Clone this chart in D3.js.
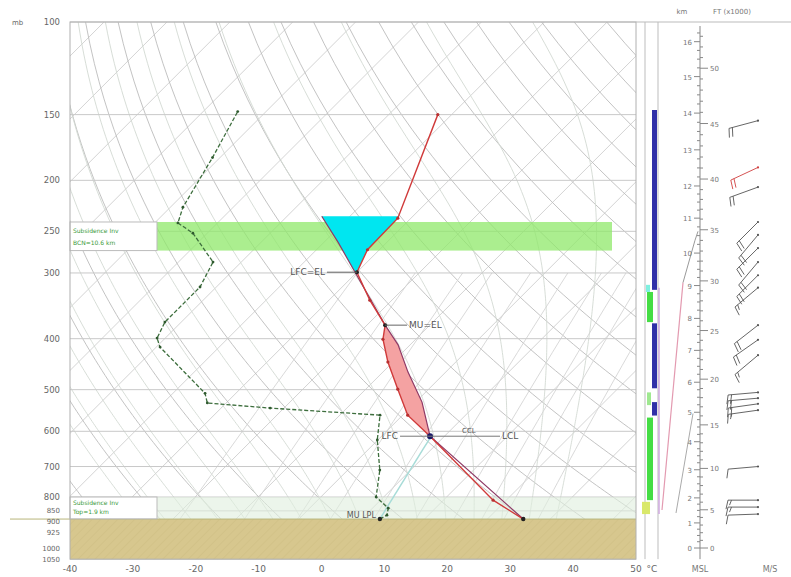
<!DOCTYPE html>
<html><head><meta charset="utf-8">
<script src="https://cdn.jsdelivr.net/npm/d3@7/dist/d3.min.js"></script>
<style>body{margin:0;background:#fff}svg{font-family:"DejaVu Sans",Arial,sans-serif}</style>
</head><body><svg id="c" width="791" height="577"></svg>
<script>
// ---------------- data ----------------
const pressureTicks = [100,150,200,250,300,400,500,600,700,800,850,900,925,1000,1050];
const tempTicks = [-40,-30,-20,-10,0,10,20,30,40,50];
// environment temperature (hPa, °C)
const envP = [881, 811, 613, 559, 499, 443, 401, 377, 338, 299, 271, 236, 150];
const envT = [25.7, 17.9, -2.3, -9.2, -14.9, -20.8, -25.2, -27.1, -33.5, -40.0, -41.9, -42.1, -52.2];
// dew point
const dewP = [881, 866, 840, 800, 711, 623, 559, 542, 530, 508, 415, 399, 372, 319, 286, 252, 241, 225, 181, 148];
const dewT = [2.9, 3.4, 2.5, -1.2, -4.9, -10.1, -13.6, -32.2, -43.0, -44.9, -59.4, -61.3, -62.6, -62.6, -64.5, -72.3, -76.3, -78.0, -81.2, -84.5];
// lifted parcel
const parcelP = [881, 613, 528, 463, 411, 377, 299, 263, 234];
const parcelT = [25.7, -2.3, -9.0, -16.0, -21.9, -27.1, -40.3, -47.6, -54.5];
// key levels
const lclP = 613, elP = 377, topEL = 299, cinTopP = 234, sfcP = 881;
// layers (hPa)
const inversionTop = [240, 272];
const inversionLow = [800, 892];
// height reference: km vs pressure
const hgtKm = [0,1,2,3,4,5,6,7,8,9,10,11,12,13,14,15,16];
const hgtP = [1000,896,803,710,628,552,484,421,366,317,275,236,205,175,149,127,109];
const kftTicks = [0,5,10,15,20,25,30,35,40,45,50];
// column bars: [pTop, pBottom]
const blueLayers = [[147,323],[374,497],[528,560]];
const greenLayers = [[326,372],[565,811]];
const lightGreenLayers = [[506,535]];
const yellowLayers = [[817,862]];
const cyanLayers = [[316,326]];
// mini profile lines in altitude panel (hPa, index value 0..40)
const miniAP = [847, 313, 260, 250];
const miniAV = [2, 23, 35, 38];
const miniBP = [858, 555];
const miniBV = [16, 33];
// winds: pressure, direction (deg), speed (m/s)
const windP = [154,189,206,240,254,269,286,303,320,377,402,430,506,519,532,547,700,811,836,862];
const windDir = [255,245,250,225,220,225,220,225,230,232,235,230,265,265,262,262,265,270,270,268];
const windSpd = [10,12,10,12,10,10,12,10,8,10,10,8,10,10,10,8,5,8,8,6];
const redWind = [189];

// --------------- scales ----------------
const svg = d3.select('#c');
const X0 = 70, X1 = 636, Y0 = 22;
const xT = d3.scaleLinear().domain([-40,50]).range([X0,X1]);
const yP = d3.scaleLog().domain([100,1000]).range([Y0,548]);
const Y1 = yP(1050);
const skew = 1.0;
const sx = (T,p) => xT(T) + skew*(Y1 - yP(p));
const lineTP = d3.line().x(d=>sx(d[1],d[0])).y(d=>yP(d[0]));

const defs = svg.append('defs');
defs.append('clipPath').attr('id','pc').append('rect').attr('x',X0).attr('y',Y0).attr('width',X1-X0).attr('height',Y1-Y0);
const pat = defs.append('pattern').attr('id','hatch').attr('width',6).attr('height',6).attr('patternUnits','userSpaceOnUse').attr('patternTransform','rotate(45)');
pat.append('rect').attr('width',6).attr('height',6).attr('fill','#d7c78e');
pat.append('line').attr('x1',0).attr('y1',0).attr('x2',0).attr('y2',6).attr('stroke','#cdbd82').attr('stroke-width',1);

const bg = svg.append('g').attr('clip-path','url(#pc)');

// isotherms
d3.range(-160,60,10).forEach(T=>{
  bg.append('path').attr('d',lineTP([[1050,T],[100,T]])).attr('stroke','#c8c8c8').attr('stroke-width',0.8).attr('fill','none');
});
// dry adiabats
const pLevels = [];
for(let p=1050;p>=100;p-=10) pLevels.push(p);
d3.range(240,500,10).forEach(th=>{
  const pts = pLevels.map(p=>[p, th*Math.pow(p/1000,0.2857)-273.15]);
  bg.append('path').attr('d',lineTP(pts)).attr('stroke','#bcbcbc').attr('stroke-width',0.9).attr('fill','none');
});
// moist adiabats
function moistLapse(T,p){const Rd=287.04,cp=1005.7,Lv=2.501e6,eps=0.622;
  const tc=T-273.15; const es=6.112*Math.exp(17.67*tc/(tc+243.5)); const rs=eps*es/(p-es);
  return (Rd*T+Lv*rs)/(p*(cp+Lv*Lv*rs*eps/(Rd*T*T)));}
d3.range(-24,40,4).forEach(t0=>{
  let T=t0+273.15, p=1050; const pts=[[p,T-273.15]];
  while(p>100){const dp=-5; T+=moistLapse(T,p)*dp; p+=dp; pts.push([p,T-273.15]);}
  bg.append('path').attr('d',lineTP(pts)).attr('stroke','#d2d9d2').attr('stroke-width',0.9).attr('fill','none');
});
// mixing ratio lines
[0.4,1,2,3,5,8,12,16,20,28].forEach(w=>{
  const pts=[]; for(let p=1050;p>=300;p-=25){const ww=w/1000; const e=ww*p/(0.622+ww); const l=Math.log(e/6.112); pts.push([p,243.5*l/(17.67-l)]);}
  bg.append('path').attr('d',lineTP(pts)).attr('stroke','#d5d5d5').attr('stroke-width',0.9).attr('fill','none');
});
// isobars
pressureTicks.forEach(p=>{
  svg.append('line').attr('x1',X0).attr('x2',X1).attr('y1',yP(p)).attr('y2',yP(p)).attr('stroke','#c9c9c9').attr('stroke-width',1);
});

// inversion bands
svg.append('rect').attr('x',157).attr('y',yP(inversionTop[0])).attr('width',612-157).attr('height',yP(inversionTop[1])-yP(inversionTop[0])).attr('fill','#8fe86a').attr('opacity',0.75);
svg.append('rect').attr('x',157).attr('y',yP(inversionLow[0])).attr('width',X1-157).attr('height',yP(inversionLow[1])-yP(inversionLow[0])).attr('fill','#dfeedd').attr('opacity',0.6);

// ground
svg.append('rect').attr('x',X0).attr('y',yP(sfcP)).attr('width',X1-X0).attr('height',Y1-yP(sfcP)).attr('fill','url(#hatch)');
svg.append('line').attr('x1',10).attr('x2',X1).attr('y1',yP(sfcP)).attr('y2',yP(sfcP)).attr('stroke','#b9b57a').attr('stroke-width',1);

// interpolation helpers
const env = envP.map((p,i)=>[p,envT[i]]);
const par = parcelP.map((p,i)=>[p,parcelT[i]]);
const dew = dewP.map((p,i)=>[p,dewT[i]]);
function interpT(arr,p){for(let i=0;i<arr.length-1;i++){const a=arr[i],b=arr[i+1];
  if((p<=a[0]&&p>=b[0])){const f=(Math.log(p)-Math.log(a[0]))/(Math.log(b[0])-Math.log(a[0]));return a[1]+f*(b[1]-a[1]);}}return arr[arr.length-1][1];}
function segment(arr,pHi,pLo){const s=[[pHi,interpT(arr,pHi)]];arr.forEach(d=>{if(d[0]<pHi&&d[0]>pLo)s.push(d);});s.push([pLo,interpT(arr,pLo)]);return s;}
// CAPE area
const capePoly = segment(par,lclP,elP).concat(segment(env,lclP,elP).reverse());
svg.append('path').attr('d',lineTP(capePoly)+'Z').attr('fill','#f4a2a2').attr('stroke','none');
// upper negative area
const cinPoly = segment(par,topEL,cinTopP).concat(segment(env,topEL,cinTopP).reverse());
svg.append('path').attr('d',lineTP(cinPoly)+'Z').attr('fill','#00e6f0').attr('stroke','none');

// surface-to-LCL mixing ratio line
(function(){const td=dewT[0]; const es=6.112*Math.exp(17.67*td/(td+243.5)); const w=0.622*es/(sfcP-es);
  const pts=[]; for(let p=sfcP;p>=lclP;p-=10){const e=w*p/(0.622+w);const l=Math.log(e/6.112);pts.push([p,243.5*l/(17.67-l)]);}
  const e=w*lclP/(0.622+w);const l=Math.log(e/6.112);pts.push([lclP,243.5*l/(17.67-l)]);
  svg.append('path').attr('d',lineTP(pts)).attr('stroke','#a8dcd8').attr('stroke-width',1.5).attr('fill','none');})();

// parcel & environment
svg.append('path').attr('d',lineTP(par)).attr('stroke','#8e3a66').attr('stroke-width',1.2).attr('fill','none');
svg.append('path').attr('d',lineTP(env)).attr('stroke','#d03a3a').attr('stroke-width',1.4).attr('fill','none');
svg.selectAll('.ed').data(env).enter().append('circle').attr('cx',d=>sx(d[1],d[0])).attr('cy',d=>yP(d[0])).attr('r',1.6).attr('fill','#b83030');
// dew point
svg.append('path').attr('d',lineTP(dew)).attr('stroke','#3d6e3d').attr('stroke-width',1.3).attr('stroke-dasharray','4,2').attr('fill','none');
svg.selectAll('.dd').data(dew).enter().append('circle').attr('cx',d=>sx(d[1],d[0])).attr('cy',d=>yP(d[0])).attr('r',1.4).attr('fill','#2f5a2f');

// key points
const keyPts = [[sfcP,envT[0],'#222',2.2],[sfcP,dewT[0],'#222',2.2],[lclP,interpT(par,lclP),'#1a1a66',3],[elP,interpT(par,elP),'#222',2],[topEL,interpT(env,topEL),'#222',2]];
keyPts.forEach(k=>svg.append('circle').attr('cx',sx(k[1],k[0])).attr('cy',yP(k[0])).attr('r',k[3]).attr('fill',k[2]));

// level labels
function lab(txt,x,y,anchor,size){return svg.append('text').attr('x',x).attr('y',y).attr('text-anchor',anchor||'start').attr('font-size',size||9).attr('fill','#555').text(txt);}
(function(){
  const xe=sx(interpT(env,topEL),topEL), ye=yP(topEL);
  svg.append('line').attr('x1',xe-30).attr('x2',xe).attr('y1',ye).attr('y2',ye).attr('stroke','#666');
  lab('LFC=EL',xe-32,ye+3,'end');
  const x2=sx(interpT(par,elP),elP), y2=yP(elP);
  svg.append('line').attr('x1',x2).attr('x2',x2+22).attr('y1',y2).attr('y2',y2).attr('stroke','#666');
  lab('MU=EL',x2+24,y2+3,'start');
  const x3=sx(interpT(par,lclP),lclP), y3=yP(lclP);
  svg.append('line').attr('x1',x3-30).attr('x2',x3+70).attr('y1',y3).attr('y2',y3).attr('stroke','#777');
  lab('LFC',x3-32,y3+3,'end');
  lab('CCL',x3+32,y3-3,'start',7);
  lab('LCL',x3+72,y3+3,'start');
  const x4=sx(dewT[0],sfcP), y4=yP(sfcP);
  lab('MU LPL',x4-4,y4-1,'end',8);
})();

// legend boxes
function legBox(pTop,pBot,l1,l2){const y=yP(pTop),h=yP(pBot)-yP(pTop);
  svg.append('rect').attr('x',X0).attr('y',y).attr('width',87).attr('height',h).attr('fill','#fff').attr('stroke','#bbb');
  svg.append('text').attr('x',X0+3).attr('y',y+h*0.38).attr('font-size',6).attr('fill','#3a9a3a').text(l1);
  svg.append('text').attr('x',X0+3).attr('y',y+h*0.8).attr('font-size',6).attr('fill','#3a9a3a').text(l2);}
legBox(inversionTop[0],inversionTop[1],'Subsidence Inv','BCN=10.6 km');
legBox(inversionLow[0],inversionLow[1]-12,'Subsidence Inv','Top=1.9 km');

// frame
svg.append('rect').attr('x',X0).attr('y',Y0).attr('width',X1-X0).attr('height',Y1-Y0).attr('fill','none').attr('stroke','#b0b0b0');

// pressure axis labels (crowded lower ones slightly smaller / nudged)
const nudge = {900:-2.5, 925:2.5};
pressureTicks.forEach(p=>{const small=p>=850; lab(String(p),60,yP(p)+(small?2.5:3)+(nudge[p]||0),'end',small?7:8.5).attr('fill','#666');});
lab('mb',12,Y0+3,'start',7).attr('fill','#666');
// temperature axis labels
tempTicks.forEach(t=>lab(String(t),xT(t),Y1+13,'middle',9).attr('fill','#666'));
lab('°C',xT(50)+16,Y1+13,'middle',9).attr('fill','#666');

// ---------------- right column ----------------
[645,658].forEach(x=>svg.append('line').attr('x1',x).attr('x2',x).attr('y1',Y0).attr('y2',Y1).attr('stroke','#bdbdbd'));
svg.append('line').attr('x1',X1).attr('x2',791).attr('y1',Y0).attr('y2',Y0).attr('stroke','#bbb');
svg.append('line').attr('x1',659).attr('x2',659).attr('y1',yP(320)).attr('y2',yP(862)).attr('stroke','#cfa8df').attr('stroke-width',1.5);
function bars(arr,x,w,c){arr.forEach(b=>svg.append('rect').attr('x',x).attr('y',yP(b[0])).attr('width',w).attr('height',yP(b[1])-yP(b[0])).attr('fill',c));}
bars(greenLayers,647,6,'#45dd45');
bars(lightGreenLayers,647,4,'#9fe890');
bars(yellowLayers,642,8,'#d9e86a');
bars(cyanLayers,646,4,'#7ff0e0');
bars(blueLayers,652,5,'#3030a8');

// mini profiles
const xM = d3.scaleLinear().domain([0,40]).range([660,700]);
const mini = d3.line().x(d=>xM(d[1])).y(d=>yP(d[0]));
svg.append('path').attr('d',mini(miniAP.slice(0,2).map((p,i)=>[p,miniAV[i]]))).attr('stroke','#e39ab0').attr('fill','none').attr('stroke-width',1.2);
svg.append('path').attr('d',mini(miniAP.slice(1).map((p,i)=>[p,miniAV[i+1]]))).attr('stroke','#999').attr('fill','none');
svg.append('path').attr('d',mini(miniBP.map((p,i)=>[p,miniBV[i]]))).attr('stroke','#aaa').attr('fill','none');

// altitude axis
const AX = 700;
const kmToY = km => { // interpolate in log p
  let i = Math.min(Math.floor(km), hgtKm.length-2); i=Math.max(0,i);
  const f = (km-hgtKm[i])/(hgtKm[i+1]-hgtKm[i]);
  const lp = Math.log(hgtP[i]) + f*(Math.log(hgtP[i+1])-Math.log(hgtP[i]));
  return yP(Math.exp(lp)); };
svg.append('line').attr('x1',AX).attr('x2',AX).attr('y1',26).attr('y2',Y1).attr('stroke','#888');
d3.range(0,17.01,0.25).forEach(k=>{const y=kmToY(k); if(y<26||y>Y1)return; const major=Math.abs(k-Math.round(k))<1e-6;
  svg.append('line').attr('x1',AX-(major?6:3)).attr('x2',AX).attr('y1',y).attr('y2',y).attr('stroke','#888');});
hgtKm.forEach(k=>lab(String(k),AX-8,kmToY(k)+3,'end',7).attr('fill','#777'));
d3.range(0,56,1).forEach(f=>{const y=kmToY(f*0.3048); if(y<26||y>Y1)return; const major=f%5===0;
  svg.append('line').attr('x1',AX).attr('x2',AX+(major?8:3)).attr('y1',y).attr('y2',y).attr('stroke','#888');});
kftTicks.forEach(f=>lab(String(f),AX+10,kmToY(f*0.3048)+3,'start',7).attr('fill','#777'));
lab('km',682,14,'middle',7).attr('fill','#777');
lab('FT (x1000)',732,14,'middle',7).attr('fill','#777');
lab('MSL',700,Y1+13,'middle',8).attr('fill','#777');
lab('M/S',770,Y1+13,'middle',8).attr('fill','#777');

// wind barbs
windP.forEach((p,i)=>{
  const x0=758, y0=yP(p), L=30, a=windDir[i]*Math.PI/180;
  const ux=Math.sin(a), uy=-Math.cos(a); const px=uy, py=-ux;
  const c = redWind.includes(p) ? '#d04040' : '#555';
  const x1=x0+ux*L, y1=y0+uy*L;
  svg.append('line').attr('x1',x0).attr('y1',y0).attr('x2',x1).attr('y2',y1).attr('stroke',c).attr('stroke-width',0.9);
  svg.append('circle').attr('cx',x0).attr('cy',y0).attr('r',1.1).attr('fill',c);
  let s=windSpd[i], k=0;
  const feather=(len)=>{const bx=x1-ux*k*3.5, by=y1-uy*k*3.5;
    svg.append('line').attr('x1',bx).attr('y1',by).attr('x2',bx+px*len+ux*2).attr('y2',by+py*len+uy*2).attr('stroke',c).attr('stroke-width',0.9);k++;};
  while(s>=5){feather(9);s-=5;}
  if(s>=2.5){feather(5);}
});
</script></body></html>
